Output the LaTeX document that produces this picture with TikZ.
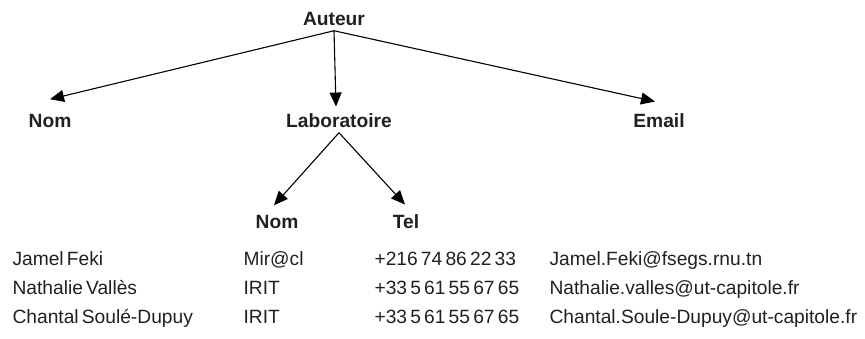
\documentclass[tikz,border=0pt]{standalone}
\usepackage{fontspec}
\setmainfont{Liberation Sans}[WordSpace=0.6]
\usetikzlibrary{arrows.meta}
\definecolor{txt}{RGB}{35,31,32}
\begin{document}
\begin{tikzpicture}[x=1pt,y=-1pt,line width=1.1pt,
		hdr/.style={font=\fontsize{19.2}{23}\selectfont\bfseries,text=txt,inner sep=0pt,anchor=base},
		cell/.style={font=\fontsize{19.2}{23}\selectfont,text=txt,inner sep=0pt,anchor=base west},
		arr/.style={-{Triangle[length=14pt,width=12pt]}}]
	\useasboundingbox (0,0) rectangle (865,338);
	% the tree
	\node[hdr] (auteur) at (334,25) {Auteur};
	\node[hdr] (nom) at (50,127) {Nom};
	\node[hdr] (labo) at (339,127) {Laboratoire};
	\node[hdr] (email) at (659,127) {Email};
	\node[hdr] (labnom) at (277,228) {Nom};
	\node[hdr] (labtel) at (406,228) {Tel};
	\draw[arr] ([yshift=-5pt]auteur.south) -- ([yshift=14pt]nom.north);
	\draw[arr] ([yshift=-5pt]auteur.south) -- ([xshift=-3pt,yshift=6pt]labo.north);
	\draw[arr] ([yshift=-5pt]auteur.south) -- ([xshift=-4pt,yshift=11pt]email.north);
	\draw[arr] ([yshift=-5pt]labo.south) -- ([xshift=-3pt,yshift=9pt]labnom.north);
	\draw[arr] ([yshift=-5pt]labo.south) -- ([xshift=-1pt,yshift=9pt]labtel.north);
	% the rows
	\foreach \who/\lab/\tel/\mail [count=\i] in {%
			Jamel Feki/Mir@cl/+216 74 86 22 33/Jamel.Feki@fsegs.rnu.tn,
			Nathalie Vallès/IRIT/+33 5 61 55 67 65/Nathalie.valles@ut-capitole.fr,
			Chantal Soulé-Dupuy/IRIT/+33 5 61 55 67 65/Chantal.Soule-Dupuy@ut-capitole.fr}{
		\node[cell] (who\i) at (12,236+29*\i) {\who};
		\node[cell] (lab\i) at (243,236+29*\i) {\lab};
		\node[cell] (tel\i) at (374,236+29*\i) {\tel};
		\node[cell] (mail\i) at (549,236+29*\i) {\mail};
	}
\end{tikzpicture}
\end{document}
